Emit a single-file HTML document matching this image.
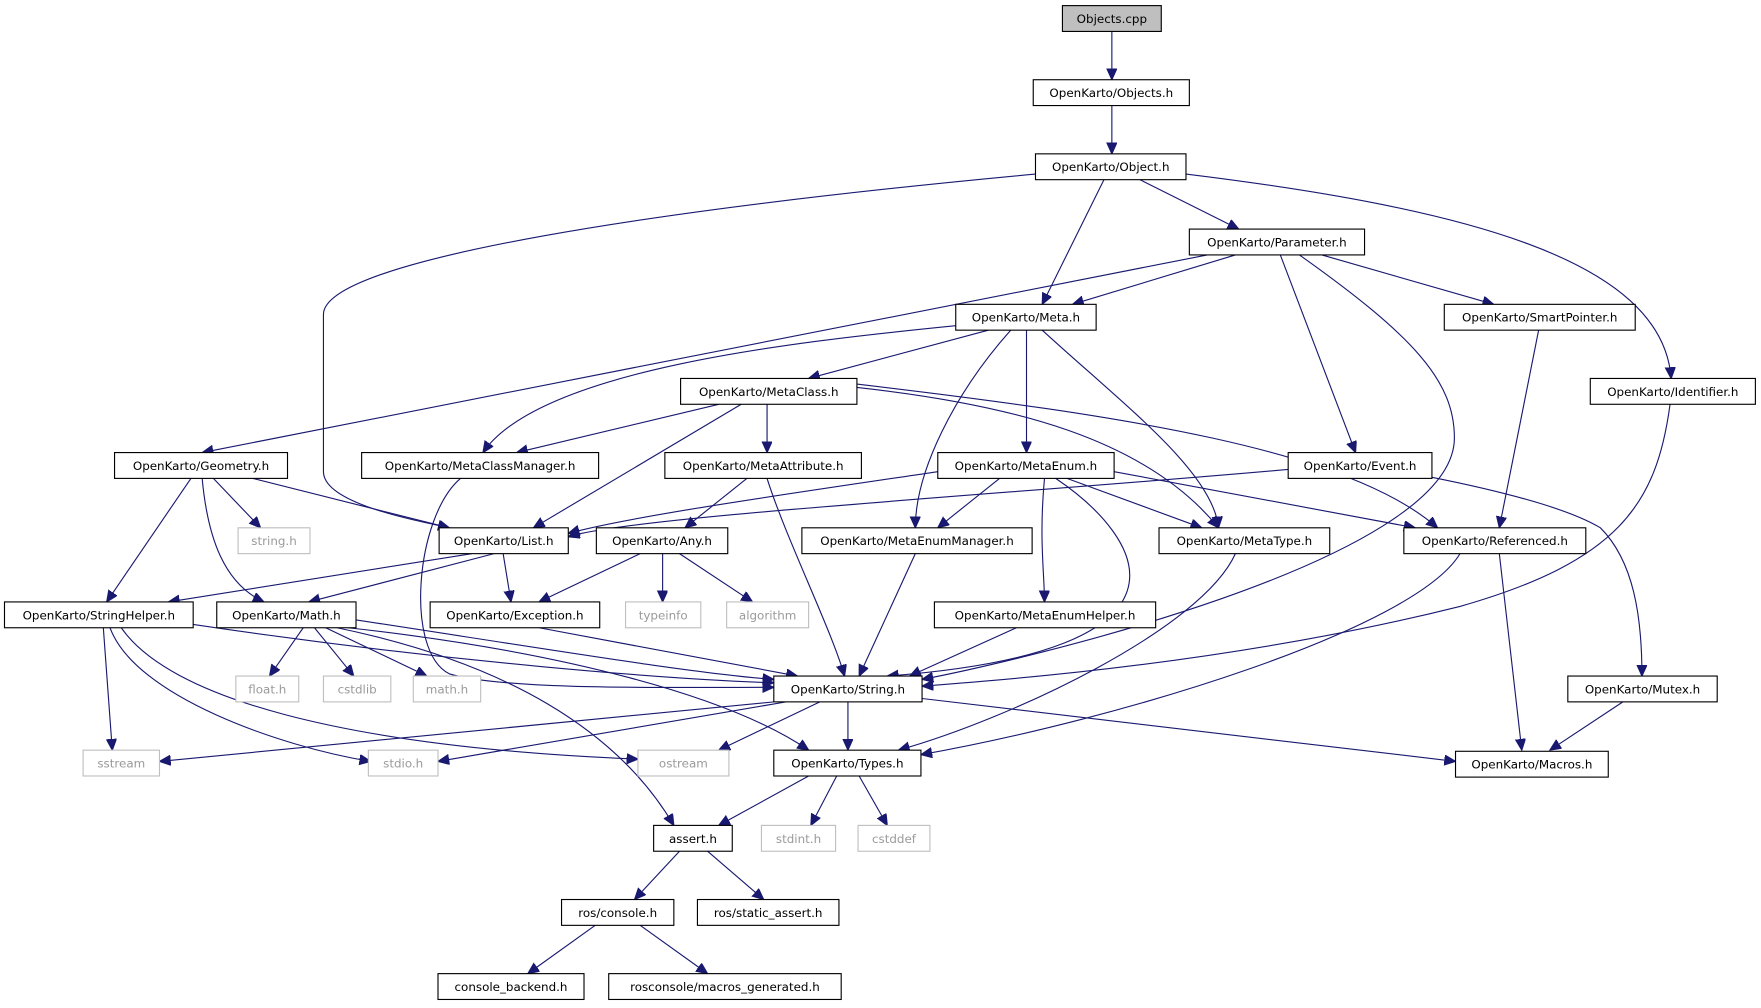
<!DOCTYPE html>
<html><head><meta charset="utf-8"><style>
html,body{margin:0;padding:0;background:#fff;}
svg{display:block;}
text{font-family:"DejaVu Sans","Liberation Sans",sans-serif;font-size:10.6px;fill:#000;}
.n{fill:#fff;stroke:#000;stroke-width:1;}
.g{fill:#fff;stroke:#bfbfbf;stroke-width:1;}
.r{fill:#bfbfbf;stroke:#000;stroke-width:1;}
.gt{fill:#9a9a9a;}
path{fill:none;stroke:#191970;stroke-width:1;}
</style></head><body>
<svg width="1761" height="1008" viewBox="0 0 1568 897.6" preserveAspectRatio="none" xmlns="http://www.w3.org/2000/svg">
<defs><marker id="a" markerUnits="userSpaceOnUse" markerWidth="11" markerHeight="10" refX="10" refY="4.5" orient="auto"><polygon points="0,0 10,4.5 0,9" fill="#191970" stroke="#191970"/></marker></defs>
<g marker-end="url(#a)">
<path d="M990,28 L990,71"/>
<path d="M990,94 L990,137"/>
<path d="M922,155 C600,185 288,230 288,280 L288,420 C288,450 380,465 400,470"/>
<path d="M983,160 L928,271"/>
<path d="M1015,160 L1103,204"/>
<path d="M1056,155 C1300,185 1480,230 1488,337"/>
<path d="M1100,227 L955,271"/>
<path d="M1075,227 L180,403"/>
<path d="M1177,227 L1330,271"/>
<path d="M1140,227 L1207,403"/>
<path d="M1157,227 C1260,300 1295,340 1295,390 C1295,500 900,590 821,605"/>
<path d="M1370,294 L1335,470"/>
<path d="M1487,360 C1475,450 1440,500 1300,540 C1100,590 900,605 821,611"/>
<path d="M851,290 C700,305 480,330 430,403"/>
<path d="M880,294 L720,337"/>
<path d="M900,294 C850,350 815,420 815,470"/>
<path d="M914,294 L914,403"/>
<path d="M928,294 C1000,360 1080,420 1085,470"/>
<path d="M640,360 L460,403"/>
<path d="M660,360 L475,470"/>
<path d="M683,360 L683,403"/>
<path d="M763,345 C900,360 1020,390 1085,470"/>
<path d="M763,342 C1000,370 1200,400 1280,470"/>
<path d="M190,426 L232,470"/>
<path d="M225,426 L400,470"/>
<path d="M170,426 L95,536"/>
<path d="M180,426 C185,480 200,520 235,536"/>
<path d="M410,426 C370,460 360,580 400,600 C450,615 600,612 689,612"/>
<path d="M665,426 L610,470"/>
<path d="M683,426 C700,480 740,560 752,602"/>
<path d="M835,420 C700,440 560,460 506,475"/>
<path d="M890,426 L835,470"/>
<path d="M930,426 C925,480 930,510 930,536"/>
<path d="M950,426 L1070,470"/>
<path d="M992,420 L1260,470"/>
<path d="M940,426 C1020,480 1080,580 790,602"/>
<path d="M1147,418 C900,440 560,460 506,478"/>
<path d="M1275,425 C1350,440 1400,455 1425,470 C1455,500 1462,550 1462,602"/>
<path d="M420,493 L150,536"/>
<path d="M440,493 L275,536"/>
<path d="M448,493 L455,536"/>
<path d="M570,493 L480,536"/>
<path d="M590,493 L590,536"/>
<path d="M605,493 L670,536"/>
<path d="M815,493 L765,602"/>
<path d="M1100,493 C1070,560 900,640 800,668"/>
<path d="M1300,493 C1260,560 1000,640 820,672"/>
<path d="M1335,493 L1355,668"/>
<path d="M172,556 C400,590 600,605 689,608"/>
<path d="M92,559 L100,668"/>
<path d="M98,559 C120,620 250,665 330,678"/>
<path d="M108,559 C150,620 300,665 568,676"/>
<path d="M270,559 L240,602"/>
<path d="M280,559 L315,602"/>
<path d="M290,559 L380,602"/>
<path d="M317,552 C500,580 620,600 689,605"/>
<path d="M310,559 C500,580 650,620 720,668"/>
<path d="M300,559 C450,590 550,650 600,735"/>
<path d="M480,559 L710,602"/>
<path d="M905,559 L810,602"/>
<path d="M689,625 L142,678"/>
<path d="M700,625 L390,678"/>
<path d="M730,625 L640,668"/>
<path d="M755,625 L755,668"/>
<path d="M821,622 L1296,678"/>
<path d="M1445,625 L1380,668"/>
<path d="M720,691 L640,735"/>
<path d="M745,691 L722,735"/>
<path d="M765,691 L790,735"/>
<path d="M605,758 L565,801"/>
<path d="M630,758 L680,801"/>
<path d="M530,824 L470,867"/>
<path d="M570,824 L630,867"/>
</g>
<g text-anchor="middle">
<rect class="r" x="946" y="5" width="88" height="23"/><text x="990" y="20.5">Objects.cpp</text>
<rect class="n" x="920" y="71" width="139" height="23"/><text x="989.5" y="86.5">OpenKarto/Objects.h</text>
<rect class="n" x="922" y="137" width="134" height="23"/><text x="989" y="152.5">OpenKarto/Object.h</text>
<rect class="n" x="1059" y="204" width="156" height="23"/><text x="1137" y="219.5">OpenKarto/Parameter.h</text>
<rect class="n" x="851" y="271" width="125" height="23"/><text x="913.5" y="286.5">OpenKarto/Meta.h</text>
<rect class="n" x="1286" y="271" width="170" height="23"/><text x="1371" y="286.5">OpenKarto/SmartPointer.h</text>
<rect class="n" x="1416" y="337" width="147" height="23"/><text x="1489.5" y="352.5">OpenKarto/Identifier.h</text>
<rect class="n" x="606" y="337" width="157" height="23"/><text x="684.5" y="352.5">OpenKarto/MetaClass.h</text>
<rect class="n" x="102" y="403" width="154" height="23"/><text x="179" y="418.5">OpenKarto/Geometry.h</text>
<rect class="n" x="322" y="403" width="211" height="23"/><text x="427.5" y="418.5">OpenKarto/MetaClassManager.h</text>
<rect class="n" x="592" y="403" width="175" height="23"/><text x="679.5" y="418.5">OpenKarto/MetaAttribute.h</text>
<rect class="n" x="835" y="403" width="157" height="23"/><text x="913.5" y="418.5">OpenKarto/MetaEnum.h</text>
<rect class="n" x="1147" y="403" width="128" height="23"/><text x="1211" y="418.5">OpenKarto/Event.h</text>
<rect class="g" x="212" y="470" width="64" height="23"/><text class="gt" x="244" y="485.5">string.h</text>
<rect class="n" x="391" y="470" width="115" height="23"/><text x="448.5" y="485.5">OpenKarto/List.h</text>
<rect class="n" x="531" y="470" width="117" height="23"/><text x="589.5" y="485.5">OpenKarto/Any.h</text>
<rect class="n" x="714" y="470" width="205" height="23"/><text x="816.5" y="485.5">OpenKarto/MetaEnumManager.h</text>
<rect class="n" x="1032" y="470" width="152" height="23"/><text x="1108" y="485.5">OpenKarto/MetaType.h</text>
<rect class="n" x="1250" y="470" width="162" height="23"/><text x="1331" y="485.5">OpenKarto/Referenced.h</text>
<rect class="n" x="4" y="536" width="168" height="23"/><text x="88" y="551.5">OpenKarto/StringHelper.h</text>
<rect class="n" x="193" y="536" width="124" height="23"/><text x="255" y="551.5">OpenKarto/Math.h</text>
<rect class="n" x="383" y="536" width="151" height="23"/><text x="458.5" y="551.5">OpenKarto/Exception.h</text>
<rect class="g" x="557" y="536" width="67" height="23"/><text class="gt" x="590.5" y="551.5">typeinfo</text>
<rect class="g" x="647" y="536" width="73" height="23"/><text class="gt" x="683.5" y="551.5">algorithm</text>
<rect class="n" x="832" y="536" width="197" height="23"/><text x="930.5" y="551.5">OpenKarto/MetaEnumHelper.h</text>
<rect class="g" x="210" y="602" width="56" height="23"/><text class="gt" x="238" y="617.5">float.h</text>
<rect class="g" x="288" y="602" width="60" height="23"/><text class="gt" x="318" y="617.5">cstdlib</text>
<rect class="g" x="368" y="602" width="60" height="23"/><text class="gt" x="398" y="617.5">math.h</text>
<rect class="n" x="689" y="602" width="132" height="23"/><text x="755" y="617.5">OpenKarto/String.h</text>
<rect class="n" x="1396" y="602" width="133" height="23"/><text x="1462.5" y="617.5">OpenKarto/Mutex.h</text>
<rect class="g" x="74" y="668" width="68" height="23"/><text class="gt" x="108" y="683.5">sstream</text>
<rect class="g" x="328" y="668" width="62" height="23"/><text class="gt" x="359" y="683.5">stdio.h</text>
<rect class="g" x="568" y="668" width="81" height="23"/><text class="gt" x="608.5" y="683.5">ostream</text>
<rect class="n" x="689" y="668" width="131" height="23"/><text x="754.5" y="683.5">OpenKarto/Types.h</text>
<rect class="n" x="1296" y="669" width="136" height="23"/><text x="1364" y="684.5">OpenKarto/Macros.h</text>
<rect class="n" x="582" y="735" width="70" height="23"/><text x="617" y="750.5">assert.h</text>
<rect class="g" x="678" y="735" width="66" height="23"/><text class="gt" x="711" y="750.5">stdint.h</text>
<rect class="g" x="764" y="735" width="64" height="23"/><text class="gt" x="796" y="750.5">cstddef</text>
<rect class="n" x="500" y="801" width="100" height="23"/><text x="550" y="816.5">ros/console.h</text>
<rect class="n" x="621" y="801" width="126" height="23"/><text x="684" y="816.5">ros/static_assert.h</text>
<rect class="n" x="390" y="867" width="130" height="23"/><text x="455" y="882.5">console_backend.h</text>
<rect class="n" x="542" y="867" width="207" height="23"/><text x="645.5" y="882.5">rosconsole/macros_generated.h</text>
</g>
</svg>
</body></html>
